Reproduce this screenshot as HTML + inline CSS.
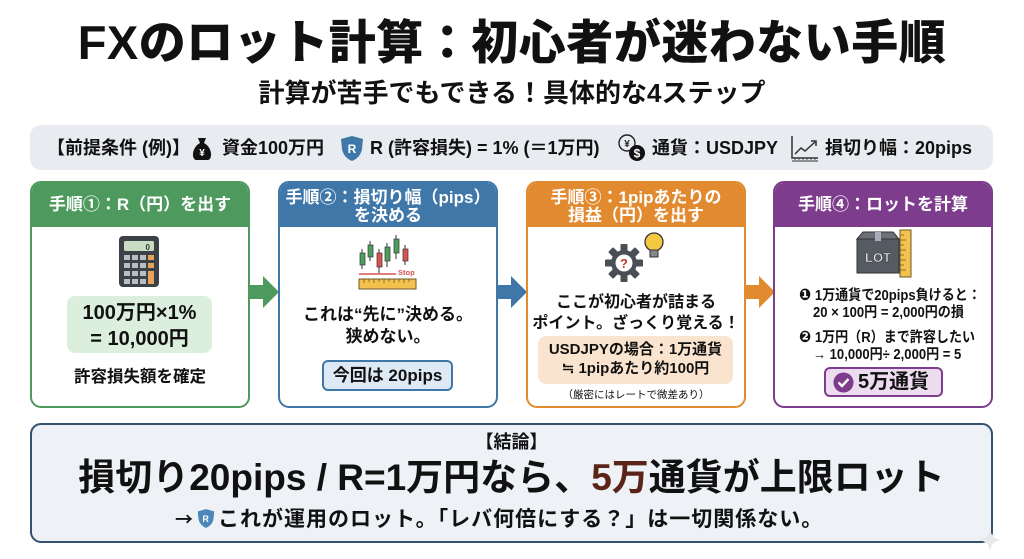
<!DOCTYPE html>
<html><head><meta charset="utf-8">
<style>
*{margin:0;padding:0;box-sizing:border-box}
body{width:1024px;height:559px;background:#fff;position:relative;overflow:hidden;font-family:"Liberation Sans","Noto Sans CJK JP",sans-serif;font-weight:700;color:#111}
.a{position:absolute;white-space:nowrap}
.c{text-align:center}
.card{position:absolute;top:181px;width:220px;height:227px;border:2.5px solid;border-radius:11px;background:#fff;overflow:hidden}
.hd{position:absolute;left:0;top:0;width:100%;height:44px;color:#fff;text-align:center;font-size:17px}
.sq{transform:scaleX(0.9);transform-origin:left center}
</style></head><body>

<!-- Title -->
<div class="a c" style="left:0;width:1024px;top:14px;font-size:47px;line-height:58px;font-weight:900;letter-spacing:0.5px">FXのロット計算：初心者が迷わない手順</div>
<div class="a c" style="left:0;width:1024px;top:77px;font-size:26px;line-height:32px">計算が苦手でもできる！具体的な4ステップ</div>

<!-- Prereq bar -->
<div class="a" style="left:30px;top:125px;width:963px;height:45px;background:#e8ebef;border-radius:11px"></div>
<div class="a" style="left:47px;top:136px;font-size:18px;line-height:24px">【前提条件 (例)】</div>
<svg class="a" style="left:190px;top:136px" width="24" height="25" viewBox="0 0 24 25">
 <path d="M8 2 L16 2 L14 7 L10 7 Z" fill="#111"/>
 <path d="M10 7 C2 11 1 23 6 24 L18 24 C23 23 22 11 14 7 Z" fill="#111"/>
 <text x="12" y="20" font-size="10" fill="#fff" text-anchor="middle" font-family="Liberation Sans" font-weight="700">¥</text>
</svg>
<div class="a" style="left:222px;top:136px;font-size:18px;line-height:24px">資金100万円</div>
<svg class="a" style="left:340px;top:135px" width="24" height="27" viewBox="0 0 24 27">
 <path d="M12 1 L23 4 L22 14 C21 20 17 24 12 26 C7 24 3 20 2 14 L1 4 Z" fill="#3f77a8"/>
 <text x="12" y="18" font-size="12" fill="#fff" text-anchor="middle" font-family="Liberation Sans" font-weight="700">R</text>
</svg>
<div class="a" style="left:370px;top:136px;font-size:18px;line-height:24px">R (許容損失) = 1% (＝1万円)</div>
<svg class="a" style="left:617px;top:133px" width="30" height="30" viewBox="0 0 30 30">
 <circle cx="10" cy="10" r="8" fill="none" stroke="#222" stroke-width="1.4"/>
 <text x="10" y="14" font-size="10" fill="#222" text-anchor="middle" font-family="Liberation Sans" font-weight="700">¥</text>
 <circle cx="20" cy="20" r="8" fill="#111"/>
 <text x="20" y="24.5" font-size="12" fill="#fff" text-anchor="middle" font-family="Liberation Sans" font-weight="700">$</text>
</svg>
<div class="a" style="left:652px;top:136px;font-size:18px;line-height:24px">通貨：USDJPY</div>
<svg class="a" style="left:790px;top:134px" width="29" height="28" viewBox="0 0 29 28">
 <path d="M2 2 L2 24 L28 24" fill="none" stroke="#333" stroke-width="1.5"/>
 <path d="M2 27 L28 27" stroke="#333" stroke-width="1"/>
 <path d="M5 24 v2 M9 24 v2 M13 24 v2 M17 24 v2 M21 24 v2 M25 24 v2" stroke="#333" stroke-width="0.8"/>
 <path d="M5 20 L11 14 L15 17 L25 8" fill="none" stroke="#333" stroke-width="1.5"/>
 <path d="M21 7 L26 7 L26 12" fill="none" stroke="#333" stroke-width="1.5"/>
</svg>
<div class="a" style="left:825px;top:136px;font-size:18px;line-height:24px">損切り幅：20pips</div>

<!-- Card 1 -->
<div class="card" style="left:30px;border-color:#4e9a5e">
 <div class="hd" style="background:#4e9a5e;line-height:44px">手順①：R（円）を出す</div>
</div>
<svg class="a" style="left:118px;top:235px" width="42" height="53" viewBox="0 0 42 53">
 <rect x="1" y="1" width="40" height="51" rx="4" fill="#3c4147"/>
 <rect x="6" y="6" width="30" height="10" rx="1.5" fill="#c9dcc3"/>
 <text x="32" y="15" font-size="8" fill="#333" text-anchor="end" font-family="Liberation Sans">0</text>
 <g fill="#b9bec4">
  <rect x="6" y="20" width="6" height="5"/><rect x="14" y="20" width="6" height="5"/><rect x="22" y="20" width="6" height="5"/>
  <rect x="6" y="28" width="6" height="5"/><rect x="14" y="28" width="6" height="5"/><rect x="22" y="28" width="6" height="5"/>
  <rect x="6" y="36" width="6" height="5"/><rect x="14" y="36" width="6" height="5"/><rect x="22" y="36" width="6" height="5"/>
  <rect x="6" y="44" width="6" height="5"/><rect x="14" y="44" width="6" height="5"/><rect x="22" y="44" width="6" height="5"/>
 </g>
 <g fill="#e8a25a">
  <rect x="30" y="20" width="6" height="5"/><rect x="30" y="28" width="6" height="5"/><rect x="30" y="36" width="6" height="13"/>
 </g>
</svg>
<div class="a" style="left:67px;top:296px;width:145px;height:57px;background:#dcefdc;border-radius:8px"></div>
<div class="a c" style="left:67px;top:300px;width:145px;font-size:20px;line-height:26px">100万円×1%<br>= 10,000円</div>
<div class="a c" style="left:30px;top:366px;width:220px;font-size:16.5px;line-height:22px">許容損失額を確定</div>

<!-- Arrow 1 -->
<svg class="a" style="left:246px;top:276px" width="34" height="32" viewBox="0 0 34 32">
 <rect x="2" y="9" width="16" height="14" fill="#4e9a5e"/>
 <path d="M17 0 L33 16 L17 32 Z" fill="#4e9a5e"/>
</svg>

<!-- Card 2 -->
<div class="card" style="left:278px;border-color:#3f77a8">
 <div class="hd" style="background:#3f77a8;line-height:18px;padding-top:6px">手順②：損切り幅（pips）<br>を決める</div>
</div>
<svg class="a" style="left:358px;top:231px" width="62" height="61" viewBox="0 0 62 61">
 <g stroke="#333" stroke-width="1">
  <path d="M4 18 V38 M12 10 V30 M21 18 V42 M29 12 V36 M38 4 V28 M47 14 V34"/>
 </g>
 <rect x="2" y="22" width="5" height="12" fill="#4aa05a" stroke="#333" stroke-width="0.7"/>
 <rect x="10" y="14" width="5" height="12" fill="#4aa05a" stroke="#333" stroke-width="0.7"/>
 <rect x="19" y="22" width="5" height="14" fill="#d9534f" stroke="#333" stroke-width="0.7"/>
 <rect x="27" y="16" width="5" height="14" fill="#4aa05a" stroke="#333" stroke-width="0.7"/>
 <rect x="36" y="8" width="5" height="14" fill="#4aa05a" stroke="#333" stroke-width="0.7"/>
 <rect x="45" y="18" width="5" height="12" fill="#d9534f" stroke="#333" stroke-width="0.7"/>
 <path d="M1 43 H38" stroke="#d9534f" stroke-width="1.5"/>
 <text x="40" y="44" font-size="7.5" fill="#d9534f" font-family="Liberation Sans" font-weight="700">Stop</text>
 <rect x="1" y="48" width="57" height="10" fill="#f2c14e" stroke="#6b5a2a" stroke-width="1"/>
 <path d="M6 48v4M11 48v3M16 48v4M21 48v3M26 48v4M31 48v3M36 48v4M41 48v3M46 48v4M51 48v3" stroke="#6b5a2a" stroke-width="0.8"/>
</svg>
<div class="a c" style="left:278px;top:304px;width:220px;font-size:17px;line-height:22px">これは“先に”決める。<br>狭めない。</div>
<div class="a" style="left:322px;top:360px;width:131px;height:31px;background:#dde9f5;border:2px solid #3f77a8;border-radius:6px"></div>
<div class="a c" style="left:322px;top:362px;width:131px;font-size:17px;line-height:27px">今回は 20pips</div>

<!-- Arrow 2 -->
<svg class="a" style="left:494px;top:276px" width="34" height="32" viewBox="0 0 34 32">
 <rect x="2" y="9" width="16" height="14" fill="#3f77a8"/>
 <path d="M17 0 L33 16 L17 32 Z" fill="#3f77a8"/>
</svg>

<!-- Card 3 -->
<div class="card" style="left:526px;border-color:#e28a30">
 <div class="hd" style="background:#e28a30;line-height:18px;padding-top:6px">手順③：1pipあたりの<br>損益（円）を出す</div>
</div>
<svg class="a" style="left:604px;top:230px" width="64" height="54" viewBox="0 0 64 54">
 <g transform="translate(20,33)">
  <g fill="#4a4f55">
   <rect x="-3.5" y="-19" width="7" height="8" rx="1"/>
   <rect x="-3.5" y="-19" width="7" height="8" rx="1" transform="rotate(45)"/>
   <rect x="-3.5" y="-19" width="7" height="8" rx="1" transform="rotate(90)"/>
   <rect x="-3.5" y="-19" width="7" height="8" rx="1" transform="rotate(135)"/>
   <rect x="-3.5" y="-19" width="7" height="8" rx="1" transform="rotate(180)"/>
   <rect x="-3.5" y="-19" width="7" height="8" rx="1" transform="rotate(225)"/>
   <rect x="-3.5" y="-19" width="7" height="8" rx="1" transform="rotate(270)"/>
   <rect x="-3.5" y="-19" width="7" height="8" rx="1" transform="rotate(315)"/>
  </g>
  <circle r="13" fill="#4a4f55"/>
  <circle r="8.5" fill="#fff"/>
  <text y="5" font-size="13" fill="#c0392b" text-anchor="middle" font-family="Liberation Sans" font-weight="700">?</text>
 </g>
 <circle cx="50" cy="12" r="9" fill="#f5c842" stroke="#333" stroke-width="1.3"/>
 <rect x="46" y="20" width="8" height="7" fill="#888" stroke="#333" stroke-width="1"/>
</svg>
<div class="a c" style="left:526px;top:292px;width:220px;font-size:16px;line-height:21px">ここが初心者が詰まる<br>ポイント。ざっくり覚える！</div>
<div class="a" style="left:538px;top:336px;width:195px;height:48px;background:#fbe4cf;border-radius:8px"></div>
<div class="a c" style="left:538px;top:340px;width:195px;font-size:15px;line-height:19px">USDJPYの場合：1万通貨<br>≒ 1pipあたり約100円</div>
<div class="a c" style="left:526px;top:388px;width:220px;font-size:10.5px;line-height:14px;font-weight:400">（厳密にはレートで微差あり）</div>

<!-- Arrow 3 -->
<svg class="a" style="left:742px;top:276px" width="34" height="32" viewBox="0 0 34 32">
 <rect x="2" y="9" width="16" height="14" fill="#e28a30"/>
 <path d="M17 0 L33 16 L17 32 Z" fill="#e28a30"/>
</svg>

<!-- Card 4 -->
<div class="card" style="left:773px;border-color:#7d3c8c">
 <div class="hd" style="background:#7d3c8c;line-height:44px">手順④：ロットを計算</div>
</div>
<svg class="a" style="left:855px;top:229px" width="60" height="50" viewBox="0 0 60 50">
 <path d="M2 10 L8 3 L38 3 L44 10 Z" fill="#6b7078" stroke="#333" stroke-width="1"/>
 <rect x="2" y="10" width="42" height="34" fill="#555b63" stroke="#333" stroke-width="1"/>
 <rect x="20" y="3" width="6" height="9" fill="#aab"/>
 <text x="23" y="33" font-size="13" fill="#e8e8e8" text-anchor="middle" font-family="Liberation Sans" font-weight="700" stroke="#222" stroke-width="0.4">LOT</text>
 <rect x="45" y="1" width="11" height="47" fill="#f2c14e" stroke="#6b5a2a" stroke-width="1"/>
 <path d="M45 6h4M45 11h6M45 16h4M45 21h6M45 26h4M45 31h6M45 36h4M45 41h6" stroke="#6b5a2a" stroke-width="0.8"/>
</svg>
<div class="a sq" style="left:799px;top:286px;font-size:14.5px;line-height:18px"><span style="font-family:'DejaVu Sans',sans-serif;font-size:16px">❶</span> 1万通貨で20pips負けると：</div>
<div class="a sq" style="left:813px;top:304px;font-size:14.5px;line-height:18px">20 × 100円 = 2,000円の損</div>
<div class="a sq" style="left:799px;top:328px;font-size:14.5px;line-height:18px"><span style="font-family:'DejaVu Sans',sans-serif;font-size:16px">❷</span> 1万円（R）まで許容したい</div>
<div class="a sq" style="left:813px;top:346px;font-size:14.5px;line-height:18px">→ 10,000円÷ 2,000円 = 5</div>
<div class="a" style="left:824px;top:367px;width:119px;height:30px;background:#eddcf0;border:2px solid #7d3c8c;border-radius:6px"></div>
<svg class="a" style="left:833px;top:372px" width="21" height="21" viewBox="0 0 21 21">
 <circle cx="10.5" cy="10.5" r="10" fill="#7d3c8c"/>
 <path d="M5.5 10.5 L9 14 L15.5 7" fill="none" stroke="#fff" stroke-width="2.4"/>
</svg>
<div class="a" style="left:858px;top:369px;font-size:20px;line-height:26px">5万通貨</div>

<!-- Conclusion -->
<div class="a" style="left:30px;top:423px;width:963px;height:120px;background:#eef2f6;border:2.5px solid #34516e;border-radius:11px"></div>
<div class="a c" style="left:30px;top:430px;width:963px;font-size:18px;line-height:24px">【結論】</div>
<div class="a c" style="left:30px;top:455px;width:963px;font-size:37px;line-height:46px">損切り20pips / R=1万円なら、<span style="color:#5a2418">5万</span>通貨が上限ロット</div>
<div class="a" style="left:175px;top:506px;font-size:21px;line-height:26px;letter-spacing:1px"><span style="font-family:'Noto Sans CJK JP',sans-serif;font-size:18px">→</span><svg style="vertical-align:-3px;margin:0 3px" width="18" height="21" viewBox="0 0 24 27"><path d="M12 1 L23 4 L22 14 C21 20 17 24 12 26 C7 24 3 20 2 14 L1 4 Z" fill="#4d86b8"/><text x="12" y="18" font-size="12" fill="#fff" text-anchor="middle" font-family="Liberation Sans" font-weight="700">R</text></svg>これが運用のロット。「レバ何倍にする？」は一切関係ない。</div>

<!-- sparkle -->
<svg class="a" style="left:978px;top:528px" width="24" height="24" viewBox="0 0 24 24"><path d="M12 0 C13 8 16 11 24 12 C16 13 13 16 12 24 C11 16 8 13 0 12 C8 11 11 8 12 0Z" fill="#e6e8ec"/></svg>

</body></html>
